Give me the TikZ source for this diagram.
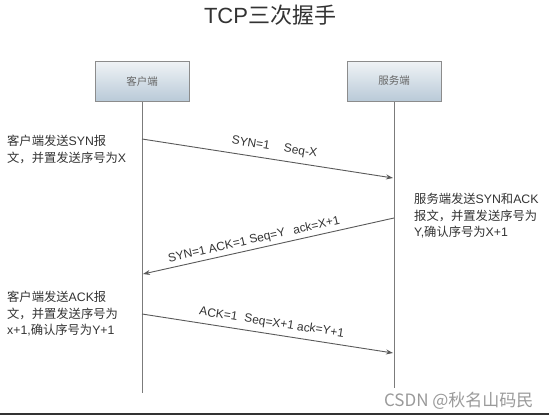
\documentclass[tikz,border=0pt]{standalone}
\usepackage{fontspec}
\setmainfont{Liberation Sans}
\newfontfamily\cjk{Noto Sans CJK SC}
\usetikzlibrary{arrows.meta}
\definecolor{linegray}{HTML}{5A5A5A}
\definecolor{txtgray}{HTML}{333333}
\definecolor{boxtop}{HTML}{F0F3F6}
\definecolor{boxbot}{HTML}{B9CAD8}
\definecolor{boxline}{HTML}{8C8C8C}
\definecolor{wmgray}{HTML}{9A9A9A}
\tikzset{
  hostbox/.style={draw=boxline, line width=1pt, top color=boxtop, bottom color=boxbot,
    minimum width=94pt, minimum height=40pt, inner sep=0pt,
    font=\cjk\fontsize{10.5}{12}\selectfont, text=black!60},
  lifeline/.style={draw=linegray!80, line width=0.9pt},
  msg/.style={draw=linegray, line width=0.9pt, -{Stealth[length=7pt,width=5pt]}},
  msglabel/.style={sloped, inner sep=1pt, font=\fontsize{12}{14}\selectfont, text=txtgray},
  note/.style={anchor=north west, inner sep=0pt, align=left, text=txtgray,
    font=\fontsize{12.3}{16.5}\selectfont},
}
\begin{document}
\begin{tikzpicture}[x=1pt,y=-1pt]
\useasboundingbox (0,0) rectangle (549,415);
\fill[white] (0,0) rectangle (549,415);
% title
\node[text=black!80] (title) at (270,15) {\fontsize{22}{26}\selectfont TCP{\cjk 三次握手}};
% hosts
\node[hostbox] (client) at (142,81) {客户端};
\node[hostbox] (server) at (394,81) {服务端};
\coordinate (cend) at (142,393);
\coordinate (send) at (394,388);
\draw[lifeline] (client.south) -- (cend);
\draw[lifeline] (server.south) -- (send);
% message anchor points
\coordinate (c1) at (142,139);
\coordinate (s1) at (393,178);
\coordinate (s2) at (394,218);
\coordinate (c2) at (143,274);
\coordinate (c3) at (142,314);
\coordinate (s3) at (393,353);
\draw[msg] (c1) -- node[msglabel, pos=.52, above=5pt] {SYN=1\hspace{1.2em}Seq-X} (s1);
\draw[msg] (s2) -- node[msglabel, pos=.55, above=2pt] {SYN=1 ACK=1 Seq=Y\hspace{0.7em}ack=X+1} (c2);
\draw[msg] (c3) -- node[msglabel, pos=.51, above=4pt] {ACK=1\hspace{0.6em}Seq=X+1 ack=Y+1} (s3);
% notes
\node[note] (n1) at (7,135) {{\cjk 客户端发送}SYN{\cjk 报}\\{\cjk 文，并置发送序号为}X};
\node[note] (n2) at (414,193) {{\cjk 服务端发送}SYN{\cjk 和}ACK\\{\cjk 报文，并置发送序号为}\\Y,{\cjk 确认序号为}X+1};
\node[note] (n3) at (7,291) {{\cjk 客户端发送}ACK{\cjk 报}\\{\cjk 文，并置发送序号为}\\x+1,{\cjk 确认序号为}Y+1};
% watermark
\node[text=wmgray, font=\cjk\fontsize{17}{20}\selectfont, anchor=east] (wm) at (537,401) {CSDN @秋名山码民};
% bottom bar
\fill[black!80] (0,412.5) rectangle (549,415);
\end{tikzpicture}
\end{document}
